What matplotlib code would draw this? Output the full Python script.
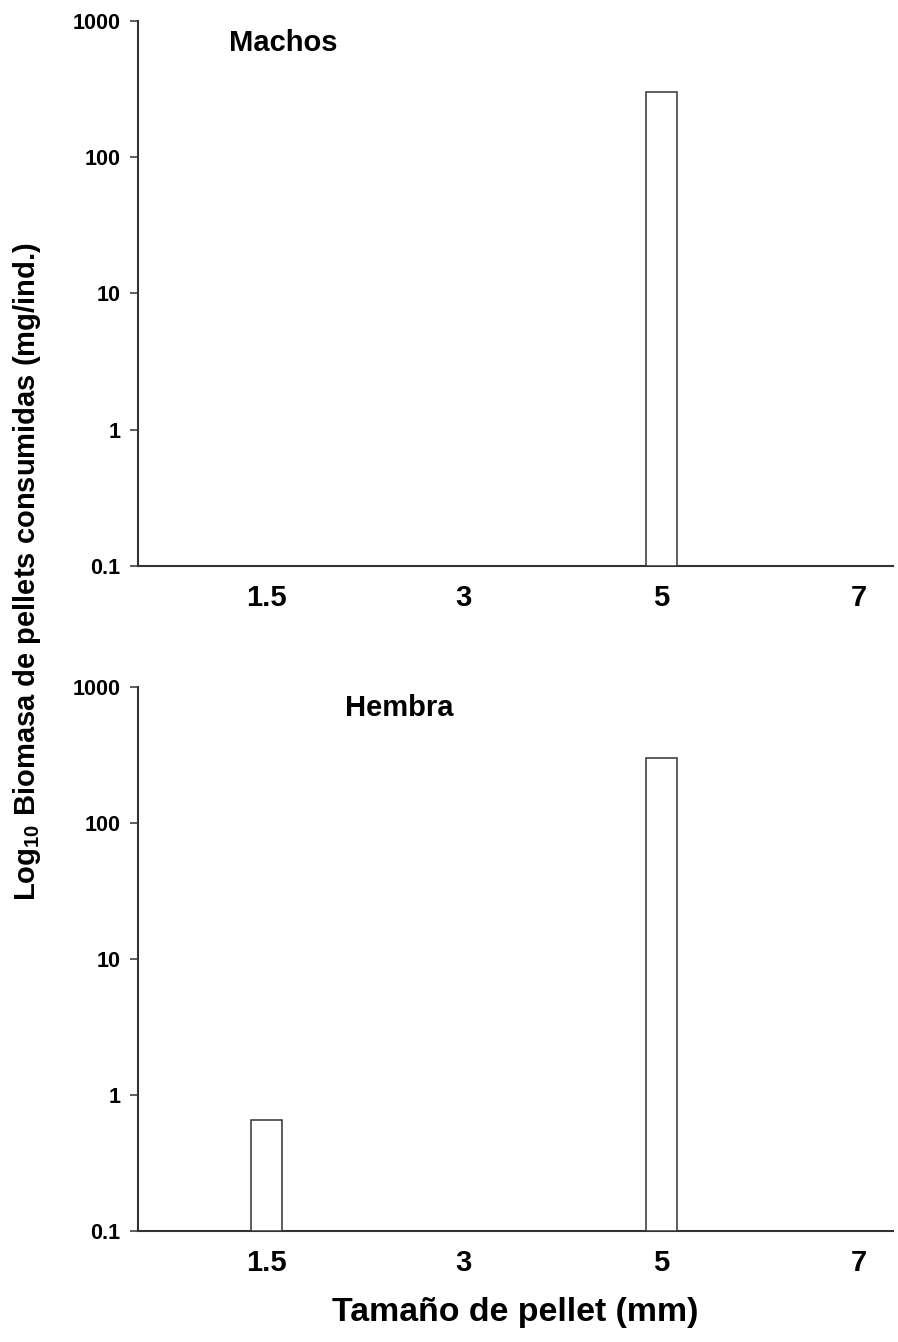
import numpy as np
import matplotlib
matplotlib.use("Agg")
import matplotlib.pyplot as plt

plt.rcParams['font.family'] = ['Liberation Sans', 'DejaVu Sans']
plt.rcParams['font.weight'] = 'bold'
plt.rcParams['mathtext.fontset'] = 'custom'
plt.rcParams['mathtext.rm'] = 'Liberation Sans'
plt.rcParams['mathtext.bf'] = 'Liberation Sans:bold'

categories = ["1.5", "3", "5", "7"]
machos = [0, 0, 300, 0]
hembra = [0.66, 0, 300, 0]
panel_titles = ["Machos", "Hembra"]
yticks = [0.1, 1, 10, 100, 1000]
yticklabels = ["0.1", "1", "10", "100", "1000"]

W, H = 898, 1342
fig = plt.figure(figsize=(W / 100, H / 100), dpi=100)

def px_axes(left, top, right, bottom):
    return fig.add_axes([left / W, 1 - bottom / H, (right - left) / W, (bottom - top) / H])

ax1 = px_axes(137.7, 21, 893, 565.7)
ax2 = px_axes(137.7, 687, 893, 1231)

edge = '#333333'
x = np.arange(len(categories))

for ax, vals, title, tx, ty in [(ax1, machos, panel_titles[0], 229, 43),
                                 (ax2, hembra, panel_titles[1], 345, 708)]:
    ax.set_yscale('log')
    ax.set_ylim(0.1, 1000)
    ax.set_xlim(-0.649, 3.171)
    xs = [xi for xi, v in zip(x, vals) if v > 0]
    vs = [v - 0.1 for v in vals if v > 0]
    ax.bar(xs, vs, bottom=0.1, width=0.157, facecolor='white',
           edgecolor=edge, linewidth=1.1, zorder=3)
    ax.set_yticks(yticks)
    ax.set_yticklabels(yticklabels)
    ax.yaxis.set_minor_locator(matplotlib.ticker.NullLocator())
    ax.set_xticks(x)
    ax.set_xticklabels(categories)
    ax.tick_params(axis='y', direction='out', length=5.5, width=1.1, color=edge,
                   labelsize=15.5, pad=7)
    ax.tick_params(axis='x', length=0, labelsize=21, pad=13)
    for lab in ax.get_yticklabels() + ax.get_xticklabels():
        lab.set_fontweight('bold')
    for s in ['top', 'right']:
        ax.spines[s].set_visible(False)
    for s in ['left', 'bottom']:
        ax.spines[s].set_linewidth(1.5)
        ax.spines[s].set_color(edge)
    fig.text(tx / W, 1 - ty / H, title, fontsize=21, fontweight='bold',
             ha='left', va='center')

fig.text(515 / W, 1 - 1313 / H, "Tamaño de pellet (mm)", fontsize=24.4,
         fontweight='bold', ha='center', va='center')
fig.text(27 / W, 1 - 572 / H, r"Log$_{\mathbf{10}}$ Biomasa de pellets consumidas (mg/ind.)",
         fontsize=21, fontweight='bold', rotation=90, ha='center', va='center')

fig.savefig("out.png", dpi=100, facecolor='white')
